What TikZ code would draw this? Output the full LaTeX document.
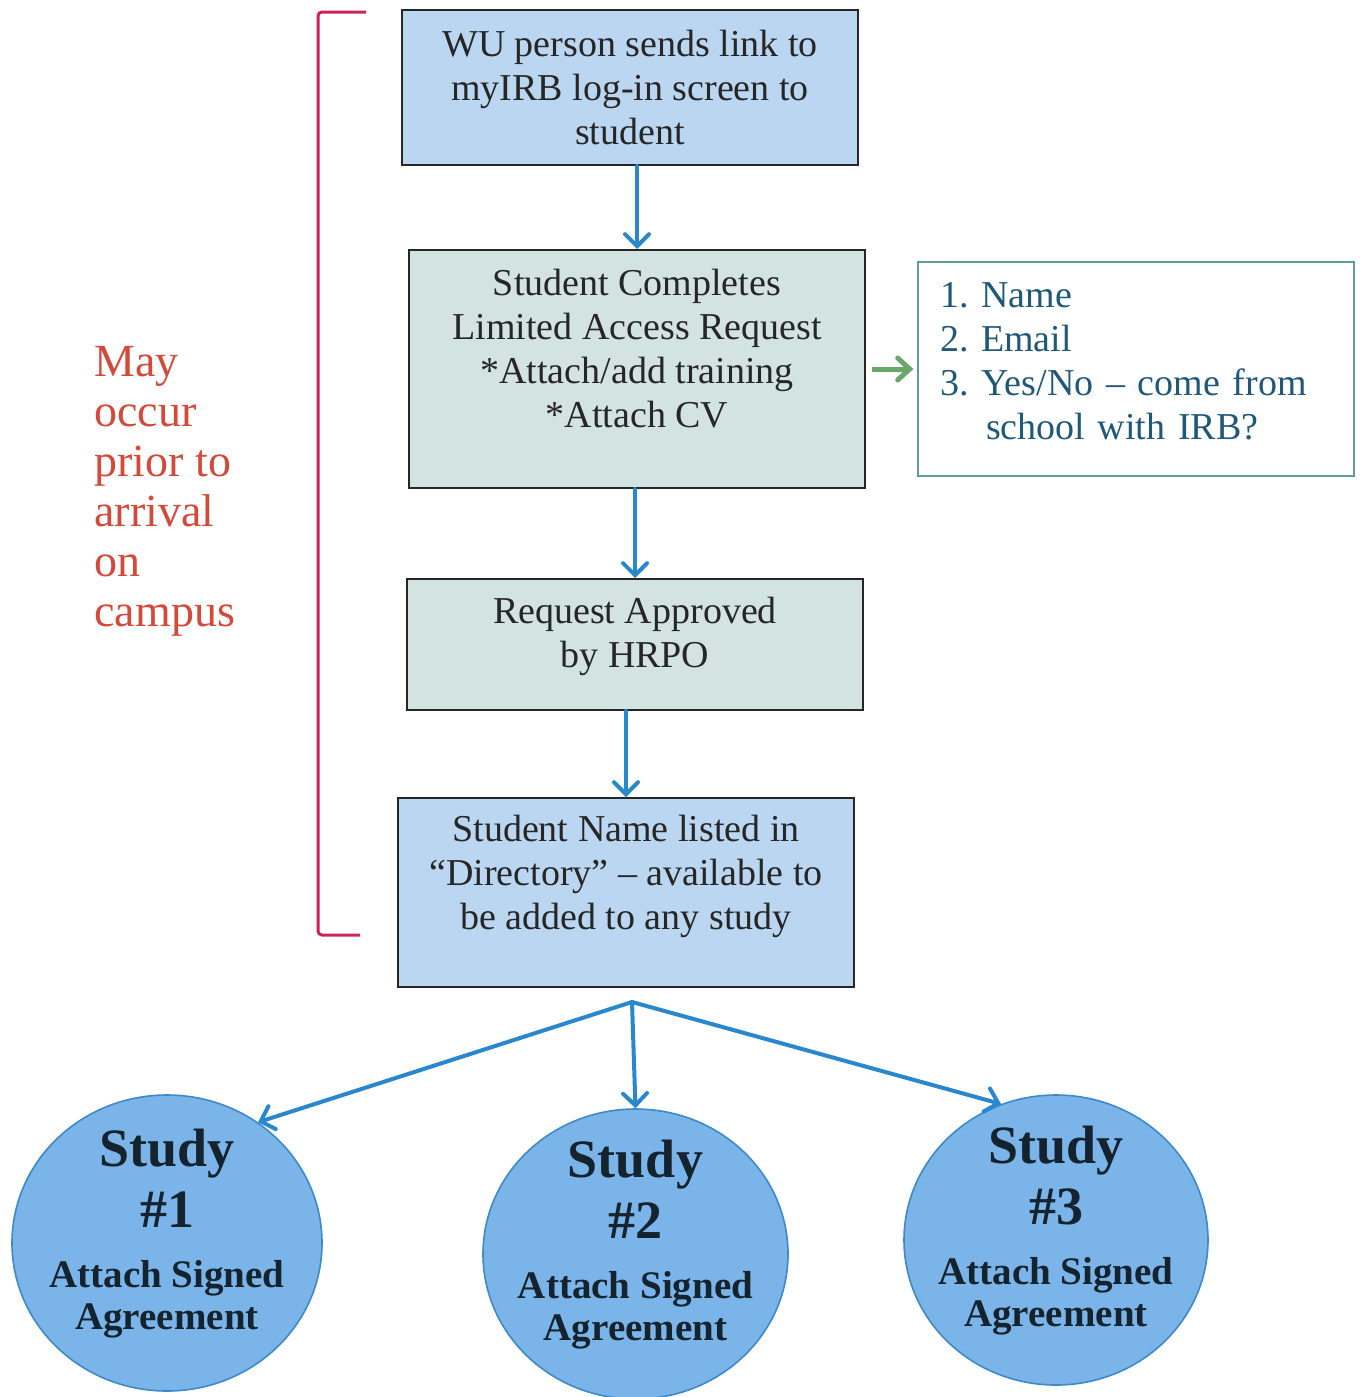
\documentclass[tikz,border=0pt]{standalone}
\usepackage{fontspec}
\setmainfont{Liberation Serif}
\usepackage{xcolor}
\usetikzlibrary{arrows.meta,positioning,shapes.geometric}
\definecolor{flowblue}{RGB}{41,135,205}
\definecolor{boxblue}{RGB}{187,214,240}
\definecolor{boxgrey}{RGB}{210,227,225}
\definecolor{studyfill}{RGB}{122,180,232}
\definecolor{studyline}{RGB}{60,138,200}
\definecolor{studytext}{RGB}{20,35,45}
\definecolor{bracketred}{RGB}{204,34,85}
\definecolor{notered}{RGB}{212,74,58}
\definecolor{fieldtext}{RGB}{31,88,120}
\definecolor{fieldline}{RGB}{95,160,140}
\definecolor{sidegreen}{RGB}{105,168,105}
\newcommand{\studylabel}[1]{{\fontsize{27}{31}\selectfont Study}\\[6pt]%
  {\fontsize{27}{31}\selectfont\##1}\\[9pt]Attach Signed\\Agreement\\[-7pt]\mbox{}}
\tikzset{
  flow/.style={>={Straight Barb[length=6pt,width=12pt,line cap=round]},line width=2pt,
    line cap=round,draw=flowblue},
  sideflow/.style={>={Straight Barb[length=6pt,width=11pt,line cap=round]},line width=2.5pt,
    draw=sidegreen},
  stepbox/.style={draw=black!85,line width=1pt,align=center,text=black!85,
    font=\fontsize{19}{22}\selectfont,inner sep=0pt,minimum width=228pt},
  fieldbox/.style={draw=fieldline,line width=0.6pt,align=left,text=fieldtext,
    font=\fontsize{19}{22}\selectfont\frenchspacing,inner xsep=11pt,inner ysep=0pt,
    text width=196pt,minimum height=107pt},
  study/.style={ellipse,draw=studyline,line width=0.8pt,fill=studyfill,inner sep=-14pt,
    align=center,text=studytext,font=\fontsize{19.5}{21}\selectfont\bfseries},
  bracket/.style={draw=bracketred,line width=1.5pt,rounded corners=2pt},
  note/.style={align=left,text=notered,font=\fontsize{23}{25}\selectfont,inner sep=0pt},
}
\begin{document}
\begin{tikzpicture}[x=0.5pt,y=-0.5pt]
\useasboundingbox (0,0) rectangle (1362,1397);
% main column
\node[stepbox,fill=boxblue,minimum height=77.5pt] (wulink) at (630,87.5)
  {WU person sends link to\\myIRB log-in screen to\\student};
\node[stepbox,fill=boxgrey,minimum height=119pt] (lar) at (637,369)
  {Student Completes\\Limited Access Request\\*Attach/add training\\*Attach CV\\[-1pt]\mbox{}};
\node[stepbox,fill=boxgrey,minimum height=65.5pt] (approved) at (635,644.5)
  {Request Approved\\by HRPO\\[-10pt]\mbox{}};
\node[stepbox,fill=boxblue,minimum height=94.5pt] (directory) at (626,892.5)
  {Student Name listed in\\``Directory'' -- available to\\be added to any study\\[-2pt]\mbox{}};
% side box
\node[fieldbox] (fields) at (1136,369)
  {1. Name\\2. Email\\3. Yes/No -- come from\\\hspace*{23pt}school with IRB?\\[-14pt]\mbox{}};
% bracket and note
\draw[bracket] (366,12) -- (318,12) -- (318,935) -- (360,935);
\node[note,anchor=north west] (early) at (94,346)
  {May\\occur\\prior to\\arrival\\on\\campus};
% studies
\node[study,minimum width=155pt,minimum height=148pt] (study1) at (167,1243) {\studylabel{1}};
\node[study,minimum width=152.5pt,minimum height=145pt] (study2) at (635.5,1254) {\studylabel{2}};
\node[study,minimum width=152pt,minimum height=145pt] (study3) at (1056,1240) {\studylabel{3}};
\coordinate (fork) at (632,1002);
% connectors
\draw[flow,->] (lar.north |- wulink.south) -- (lar.north);
\draw[flow,->] (approved.north |- lar.south) -- (approved.north);
\draw[flow,->] (directory.north |- approved.south) -- (directory.north);
\draw[sideflow,->,shorten <=3pt,shorten >=2pt] (lar.east) -- (fields.west);
\draw[flow,->] (fork) -- (study1.53);
\draw[flow,->] (fork) -- (study2.north);
\draw[flow,->] (fork) -- (study3.112);
\end{tikzpicture}
\end{document}
